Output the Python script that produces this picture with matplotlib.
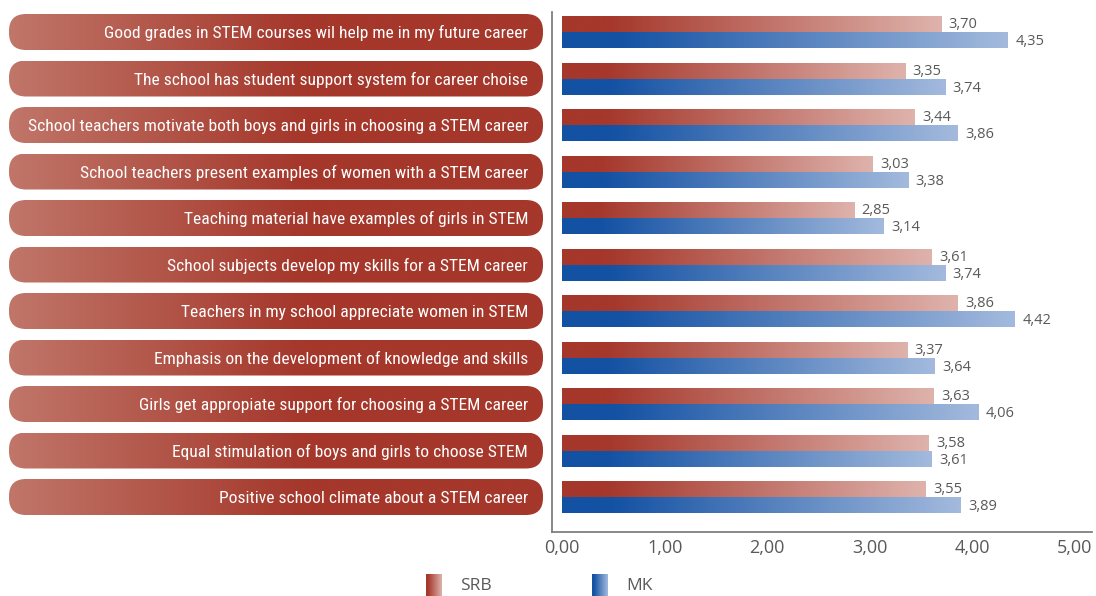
import numpy as np
import matplotlib
matplotlib.use("Agg")
import matplotlib.pyplot as plt
from matplotlib.colors import LinearSegmentedColormap
from matplotlib.patches import FancyBboxPatch
import logging
logging.getLogger("matplotlib.font_manager").setLevel(logging.ERROR)

categories = [
    "Good grades in STEM courses wil help me in my future career",
    "The school has student support system for career choise",
    "School teachers motivate both boys and girls in choosing a STEM career",
    "School teachers present examples of women with a STEM career",
    "Teaching material have examples of girls in STEM",
    "School subjects develop my skills for a STEM career",
    "Teachers in my school appreciate women in STEM",
    "Emphasis on the development of knowledge and skills",
    "Girls get appropiate support for choosing a STEM career",
    "Equal stimulation of boys and girls to choose STEM",
    "Positive school climate about a STEM career",
]
srb = [3.70, 3.35, 3.44, 3.03, 2.85, 3.61, 3.86, 3.37, 3.63, 3.58, 3.55]
mk = [4.35, 3.74, 3.86, 3.38, 3.14, 3.74, 4.42, 3.64, 4.06, 3.61, 3.89]
series_names = ["SRB", "MK"]
xticks = [0, 1, 2, 3, 4, 5]

W, H = 1096, 596
fig = plt.figure(figsize=(W / 100, H / 100), dpi=100)

cond = ["Roboto Condensed", "Liberation Sans Narrow", "Roboto", "DejaVu Sans"]
light = ["Open Sans", "DejaVu Sans"]

red_cmap = LinearSegmentedColormap.from_list("r", [(0, "#A5372B"), (0.12, "#A5372B"), (1, "#DEB3AC")])
blue_cmap = LinearSegmentedColormap.from_list("b", [(0, "#1351A3"), (0.12, "#1351A3"), (1, "#A3BADD")])
pill_cmap = LinearSegmentedColormap.from_list("p", [(0, "#C07669"), (0.55, "#A5372B"), (1, "#A5372B")])

ax_l, ax_r = 552, 1092
ax_t, ax_b = 12, 532
ax = fig.add_axes([ax_l / W, 1 - ax_b / H, (ax_r - ax_l) / W, (ax_b - ax_t) / H])
n = len(categories)
y = np.arange(n)
row_px = 46.5
ylo = (ax_b - 32) / row_px
yhi = (ax_t - 32) / row_px
ax.set_ylim(ylo, yhi)
ax.set_xlim(-0.1, 5.17)
bh = 16 / row_px

grad = np.linspace(0, 1, 256).reshape(1, -1)
bars_s = ax.barh(y - bh / 2, srb, height=bh, color="none", edgecolor="none")
bars_m = ax.barh(y + bh / 2, mk, height=bh, color="none", edgecolor="none")
for bars, cmap in ((bars_s, red_cmap), (bars_m, blue_cmap)):
    for b in bars:
        x0, y0 = b.get_x(), b.get_y()
        w, h = b.get_width(), b.get_height()
        im = ax.imshow(grad, extent=[x0, x0 + w, y0 + h, y0], aspect="auto",
                       cmap=cmap, interpolation="bicubic", zorder=2)
        im.set_clip_path(b)

for i in range(n):
    ax.text(srb[i] + 0.07, y[i] - bh / 2 + 0.02, f"{srb[i]:.2f}".replace(".", ","),
            va="center", ha="left", fontsize=10.5, color="#595959", family=light)
    ax.text(mk[i] + 0.07, y[i] + bh / 2 + 0.04, f"{mk[i]:.2f}".replace(".", ","),
            va="center", ha="left", fontsize=10.5, color="#595959", family=light)

ax.set_xticks(xticks)
ax.set_xticklabels([f"{t:.2f}".replace(".", ",") for t in xticks], family=light,
                   fontsize=13, color="#595959")
ax.tick_params(axis="x", length=0, pad=5)
ax.set_yticks([])
for s in ("top", "right"):
    ax.spines[s].set_visible(False)
for s in ("left", "bottom"):
    ax.spines[s].set_color("#7f7f7f")
    ax.spines[s].set_linewidth(1.3)

axp = fig.add_axes([0, 1 - ax_b / H, ax_l / W, (ax_b - ax_t) / H])
axp.set_xlim(0, ax_l)
axp.set_ylim(ylo, yhi)
axp.axis("off")
pill_h = 36 / row_px
px0, px1 = 9, 543
texts = []
for i, lab in enumerate(categories):
    p = FancyBboxPatch((px0, y[i] - pill_h / 2), px1 - px0, pill_h,
                       boxstyle="round,pad=0,rounding_size=17",
                       mutation_aspect=1 / row_px, facecolor="none", edgecolor="none")
    axp.add_patch(p)
    im = axp.imshow(grad, extent=[px0, px1, y[i] + pill_h / 2, y[i] - pill_h / 2],
                    aspect="auto", cmap=pill_cmap, interpolation="bicubic")
    im.set_clip_path(p)
    texts.append(axp.text(528, y[i] + 0.03, lab, ha="right", va="center", color="white",
                          fontsize=14, family=cond))

# fit label font size so the longest label fits in the pill
fig.canvas.draw()
r = fig.canvas.get_renderer()
maxw = max(t.get_window_extent(r).width for t in texts)
fs = min(14, 14 * 500 / maxw)
for t in texts:
    t.set_fontsize(fs)

lg_y0, lg_y1 = 574, 596
for (x0, cmap, name) in ((426, red_cmap, series_names[0]), (592, blue_cmap, series_names[1])):
    lax = fig.add_axes([x0 / W, 1 - lg_y1 / H, 16 / W, (lg_y1 - lg_y0) / H])
    lax.imshow(grad, aspect="auto", cmap=cmap, extent=[0, 1, 0, 1], interpolation="bicubic")
    lax.axis("off")
    fig.text((x0 + 34) / W, 1 - 586 / H, name, ha="left", va="center",
             fontsize=12.5, color="#595959", family=light)

fig.savefig("out.png", dpi=100)
